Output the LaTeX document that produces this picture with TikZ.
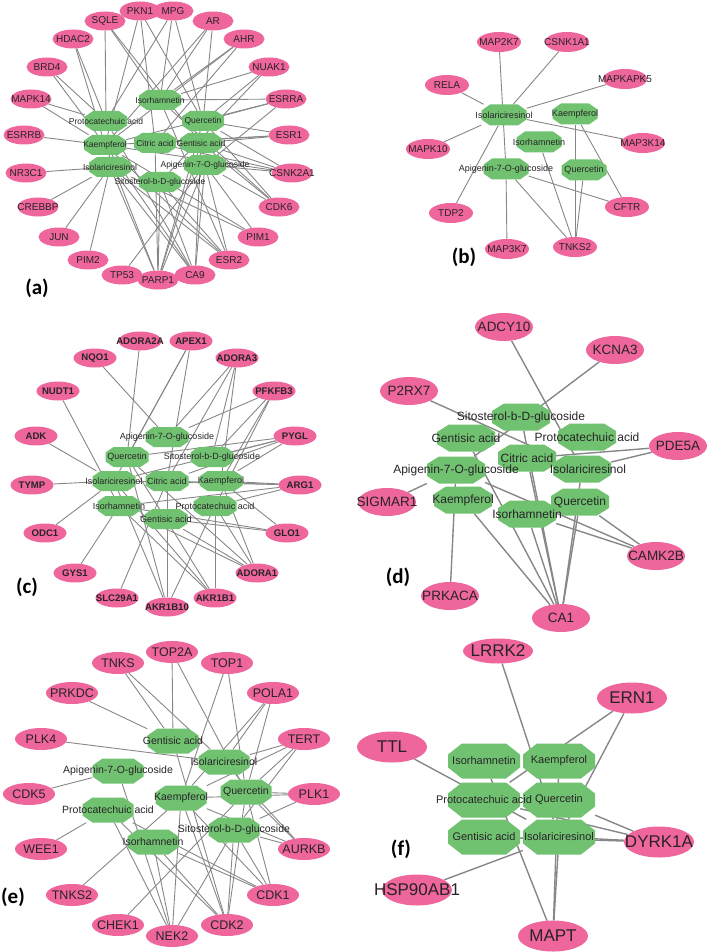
\documentclass[tikz,border=0pt]{standalone}
\usepackage{fontspec}
\setmainfont{Liberation Sans}
\newfontfamily\lblfont{Carlito}
\usetikzlibrary{shapes.geometric,calc,backgrounds}
\definecolor{npink}{RGB}{238,102,155}
\definecolor{ngreen}{RGB}{112,194,112}
\definecolor{nedge}{RGB}{135,135,135}
\definecolor{ntext}{RGB}{40,35,40}
\tikzset{
  pt/.style={inner sep=0pt, text=ntext},
  pnode/.style={ellipse, fill=npink, draw=none, inner sep=0pt},
  gnode/.style 2 args={rectangle, draw=none, inner sep=0pt,
    path picture={\fill[ngreen]
      ($(path picture bounding box.north west)+(#1,0pt)$) --
      ($(path picture bounding box.north east)+(-#1,0pt)$) --
      ($(path picture bounding box.north east)+(0pt,-#2)$) --
      ($(path picture bounding box.south east)+(0pt,#2)$) --
      ($(path picture bounding box.south east)+(-#1,0pt)$) --
      ($(path picture bounding box.south west)+(#1,0pt)$) --
      ($(path picture bounding box.south west)+(0pt,#2)$) --
      ($(path picture bounding box.north west)+(0pt,-#2)$) -- cycle;}},
  panlab/.style={inner sep=0pt, font=\lblfont\bfseries\fontsize{21}{24}\selectfont},
  pA/.style={pnode, minimum width=41, minimum height=19, label={[pt, font=\fontsize{10}{12}\selectfont]center:#1}},
  gA/.style={gnode={8pt}{5.5pt}, minimum width=42, minimum height=20},
  tA/.style={pt, font=\fontsize{8.5}{10}\selectfont},
  pB/.style={pnode, minimum width=44, minimum height=20, label={[pt, font=\fontsize{10}{12}\selectfont]center:#1}},
  gB/.style={gnode={8.5pt}{6pt}, minimum width=45, minimum height=21},
  tB/.style={pt, font=\fontsize{9}{11}\selectfont},
  pC/.style={pnode, minimum width=43, minimum height=19, label={[pt, font=\bfseries\fontsize{9.6}{11}\selectfont]center:#1}},
  gC/.style={gnode={8pt}{5.5pt}, minimum width=43, minimum height=20},
  tC/.style={pt, font=\fontsize{9}{11}\selectfont},
  pD/.style={pnode, minimum width=58, minimum height=28, label={[pt, font=\fontsize{13.5}{15}\selectfont]center:#1}},
  gD/.style={gnode={12pt}{7.5pt}, minimum width=58, minimum height=27},
  tD/.style={pt, font=\fontsize{12}{14}\selectfont},
  pE/.style={pnode, minimum width=52, minimum height=22, label={[pt, font=\fontsize{12.5}{14}\selectfont]center:#1}},
  gE/.style={gnode={10pt}{7pt}, minimum width=51, minimum height=25},
  tE/.style={pt, font=\fontsize{10.5}{12}\selectfont},
  pF/.style={pnode, minimum width=70, minimum height=31, label={[pt, font=\fontsize{17}{19}\selectfont]center:#1}},
  gF/.style={gnode={14pt}{11pt}, minimum width=72, minimum height=35},
  tF/.style={pt, font=\fontsize{11}{13}\selectfont},
  edthin/.style={draw=nedge, line width=0.9pt},
  edthick/.style={draw=nedge, line width=1.4pt},
}
\begin{document}
\begin{tikzpicture}[x=1pt, y=-1pt]
\useasboundingbox (0,0) rectangle (708,952);
% ---------------- (a) ----------------
\node[pA=SQLE] (aSQLE) at (105,21) {};
\node[pA=PKN1] (aPKN1) at (140,11) {};
\node[pA=MPG] (aMPG) at (173,11) {};
\node[pA=AR] (aAR) at (213,21) {};
\node[pA=AHR] (aAHR) at (244,39) {};
\node[pA=NUAK1] (aNUAK1) at (269,67) {};
\node[pA=ESRRA] (aESRRA) at (286,99) {};
\node[pA=ESR1] (aESR1) at (289,135) {};
\node[pA=HDAC2] (aHDAC2) at (73,39) {};
\node[pA=BRD4] (aBRD4) at (47,67) {};
\node[pA=MAPK14] (aMAPK14) at (31,99) {};
\node[pA=ESRRB] (aESRRB) at (24,135) {};
\node[pA=NR3C1] (aNR3C1) at (26,173) {};
\node[pA=CREBBP] (aCREBBP) at (38,207) {};
\node[pA=JUN] (aJUN) at (59,237) {};
\node[pA=PIM2] (aPIM2) at (88,260) {};
\node[pA=TP53] (aTP53) at (122,275) {};
\node[pA=CA9] (aCA9) at (195,275) {};
\node[pA=PARP1] (aPARP1) at (158,280) {};
\node[pA=ESR2] (aESR2) at (229,260) {};
\node[pA=PIM1] (aPIM1) at (258,237) {};
\node[pA=CDK6] (aCDK6) at (279,207) {};
\node[pA=CSNK2A1] (aCSNK2A1) at (292,173) {};
\node[gA] (aIso) at (160,100) {};
\node[gA] (aPro) at (106,121) {};
\node[gA] (aQue) at (203,121) {};
\node[gA] (aKae) at (105,145) {};
\node[gA] (aCit) at (155,143) {};
\node[gA] (aGen) at (201,143) {};
\node[gA] (aIsl) at (110,167) {};
\node[gA] (aApi) at (205,165) {};
\node[gA] (aSit) at (160,182) {};
\foreach \n/\t in {aIso/Isorhamnetin, aPro/Protocatechuic acid, aQue/Quercetin, aKae/Kaempferol,
  aCit/Citric acid, aGen/Gentisic acid, aIsl/Isolariciresinol, aApi/Apigenin-7-O-glucoside,
  aSit/Sitosterol-b-D-glucoside}
  \node[tA] (\n-t) at (\n) {\t};
\node[panlab] (labA) at (37,288) {(a)};
% ---------------- (b) ----------------
\node[pB=MAP2K7] (bMAP2K7) at (499,42) {};
\node[pB=CSNK1A1] (bCSNK1A1) at (567,42) {};
\node[pB=MAPKAPK5] (bMAPKAPK5) at (625,79) {};
\node[pB=RELA] (bRELA) at (447,85) {};
\node[pB=MAPK10] (bMAPK10) at (428,149) {};
\node[pB=MAP3K14] (bMAP3K14) at (643,143) {};
\node[pB=TDP2] (bTDP2) at (451,213) {};
\node[pB=MAP3K7] (bMAP3K7) at (507,249) {};
\node[pB=TNKS2] (bTNKS2) at (575,247) {};
\node[pB=CFTR] (bCFTR) at (627,207) {};
\node[gB] (bIsl) at (504,115) {};
\node[gB] (bKae) at (575,114) {};
\node[gB] (bIso) at (539,142) {};
\node[gB] (bApi) at (506,169) {};
\node[gB] (bQue) at (584,170) {};
\foreach \n/\t in {bIsl/Isolariciresinol, bKae/Kaempferol, bIso/Isorhamnetin,
  bApi/Apigenin-7-O-glucoside, bQue/Quercetin}
  \node[tB] (\n-t) at (\n) {\t};
\node[panlab] (labB) at (464,257) {(b)};
% ---------------- (c) ----------------
\node[pC=ADORA2A] (cADORA2A) at (140,341) {};
\node[pC=APEX1] (cAPEX1) at (191,341) {};
\node[pC=NQO1] (cNQO1) at (95,358) {};
\node[pC=ADORA3] (cADORA3) at (237,358) {};
\node[pC=NUDT1] (cNUDT1) at (58,391) {};
\node[pC=PFKFB3] (cPFKFB3) at (274,391) {};
\node[pC=ADK] (cADK) at (36,436) {};
\node[pC=PYGL] (cPYGL) at (295,436) {};
\node[pC=TYMP] (cTYMP) at (32,485) {};
\node[pC=ARG1] (cARG1) at (300,485) {};
\node[pC=ODC1] (cODC1) at (45,533) {};
\node[pC=GLO1] (cGLO1) at (287,533) {};
\node[pC=GYS1] (cGYS1) at (75,573) {};
\node[pC=ADORA1] (cADORA1) at (257,573) {};
\node[pC=SLC29A1] (cSLC29A1) at (117,598) {};
\node[pC=AKR1B1] (cAKR1B1) at (215,598) {};
\node[pC=AKR1B10] (cAKR1B10) at (167,607) {};
\node[gC] (cApi) at (167,437) {};
\node[gC] (cQue) at (127,457) {};
\node[gC] (cSit) at (212,457) {};
\node[gC] (cIsl) at (114,481) {};
\node[gC] (cCit) at (167,481) {};
\node[gC] (cKae) at (221,481) {};
\node[gC] (cIso) at (119,506) {};
\node[gC] (cPro) at (215,506) {};
\node[gC] (cGen) at (166,519) {};
\foreach \n/\t in {cApi/Apigenin-7-O-glucoside, cQue/Quercetin, cSit/Sitosterol-b-D-glucoside,
  cIsl/Isolariciresinol, cCit/Citric acid, cKae/Kaempferol, cIso/Isorhamnetin,
  cPro/Protocatechuic acid, cGen/Gentisic acid}
  \node[tC] (\n-t) at (\n) {\t};
\node[panlab] (labC) at (27,587) {(c)};
% ---------------- (d) ----------------
\node[pD=ADCY10] (dADCY10) at (504,327) {};
\node[pD=KCNA3] (dKCNA3) at (615,350) {};
\node[pD=P2RX7] (dP2RX7) at (409,391) {};
\node[pD=PDE5A] (dPDE5A) at (678,446) {};
\node[pD=SIGMAR1] (dSIGMAR1) at (387,502) {};
\node[pD=CAMK2B] (dCAMK2B) at (656,556) {};
\node[pD=PRKACA] (dPRKACA) at (450,596) {};
\node[pD=CA1] (dCA1) at (561,618) {};
\node[gD] (dSit) at (521,417) {};
\node[gD] (dGen) at (466,438) {};
\node[gD] (dPro) at (587,437) {};
\node[gD] (dCit) at (527,458) {};
\node[gD] (dIsl) at (582,469) {};
\node[gD] (dApi) at (456,470) {};
\node[gD] (dKae) at (463,500) {};
\node[gD] (dQue) at (580,502) {};
\node[gD] (dIso) at (527,514) {};
\foreach \n/\t in {dSit/Sitosterol-b-D-glucoside, dGen/Gentisic acid, dPro/Protocatechuic acid,
  dCit/Citric acid, dApi/Apigenin-7-O-glucoside, dKae/Kaempferol, dQue/Quercetin, dIso/Isorhamnetin}
  \node[tD] (\n-t) at (\n) {\t};
\node[tD] (dIsl-t) at ([xshift=6pt]dIsl.center) {Isolariciresinol};
\node[panlab] (labD) at (398,577) {(d)};
% ---------------- (e) ----------------
\node[pE=TOP2A] (eTOP2A) at (172,652) {};
\node[pE=TNKS] (eTNKS) at (118,663) {};
\node[pE=TOP1] (eTOP1) at (227,663) {};
\node[pE=PRKDC] (ePRKDC) at (72,693) {};
\node[pE=POLA1] (ePOLA1) at (273,693) {};
\node[pE=PLK4] (ePLK4) at (41,739) {};
\node[pE=TERT] (eTERT) at (304,739) {};
\node[pE=CDK5] (eCDK5) at (29,794) {};
\node[pE=PLK1] (ePLK1) at (314,794) {};
\node[pE=WEE1] (eWEE1) at (41,849) {};
\node[pE=AURKB] (eAURKB) at (304,849) {};
\node[pE=TNKS2] (eTNKS2) at (72,895) {};
\node[pE=CDK1] (eCDK1) at (273,895) {};
\node[pE=CHEK1] (eCHEK1) at (118,925) {};
\node[pE=CDK2] (eCDK2) at (227,925) {};
\node[pE=NEK2] (eNEK2) at (172,936) {};
\node[gE] (eGen) at (173,741) {};
\node[gE] (eIsl) at (224,762) {};
\node[gE] (eApi) at (118,771) {};
\node[gE] (eKae) at (181,798) {};
\node[gE] (eQue) at (246,792) {};
\node[gE] (ePro) at (108,810) {};
\node[gE] (eSit) at (234,830) {};
\node[gE] (eIso) at (153,842) {};
\foreach \n/\t in {eGen/Gentisic acid, eIsl/Isolariciresinol, eApi/Apigenin-7-O-glucoside,
  eKae/Kaempferol, eQue/Quercetin, ePro/Protocatechuic acid, eSit/Sitosterol-b-D-glucoside,
  eIso/Isorhamnetin}
  \node[tE] (\n-t) at (\n) {\t};
\node[panlab] (labE) at (13,897) {(e)};
% ---------------- (f) ----------------
\node[pF=LRRK2, minimum height=25] (fLRRK2) at (498,651) {};
\node[pF=ERN1] (fERN1) at (632,698) {};
\node[pF=TTL] (fTTL) at (392,747) {};
\node[pF=DYRK1A] (fDYRK1A) at (659,842) {};
\node[pF=HSP90AB1] (fHSP90AB1) at (417,890) {};
\node[pF=MAPT] (fMAPT) at (553,936) {};
\node[gF] (fIso) at (484,761) {};
\node[gF] (fKae) at (559,761) {};
\node[gF] (fPro) at (484,800) {};
\node[gF] (fQue) at (559,800) {};
\node[gF] (fGen) at (484,837) {};
\node[gF] (fIsl) at (559,837) {};
\foreach \n/\t in {fIso/Isorhamnetin, fKae/Kaempferol, fPro/Protocatechuic acid, fQue/Quercetin,
  fGen/Gentisic acid, fIsl/Isolariciresinol}
  \node[tF] (\n-t) at (\n) {\t};
\node[panlab] (labF) at (401,849) {(f)};
% ---------------- edges ----------------
\begin{scope}[on background layer]
\foreach \u/\v in {aSQLE/aPro, aSQLE/aGen, aSQLE/aIso,
  aPKN1/aKae, aPKN1/aQue, aPKN1/aCit,
  aMPG/aIso, aMPG/aPro, aMPG/aQue,
  aAR/aQue, aAR/aKae, aAR/aIso,
  aAHR/aIso, aAHR/aKae, aAHR/aCit,
  aNUAK1/aIso, aNUAK1/aQue, aNUAK1/aSit,
  aESRRA/aIso, aESRRA/aQue, aESRRA/aKae, aESRRA/aApi,
  aESR1/aQue, aESR1/aGen, aESR1/aKae, aESR1/aCit,
  aHDAC2/aPro, aHDAC2/aKae, aBRD4/aPro, aBRD4/aKae,
  aMAPK14/aPro, aMAPK14/aKae, aESRRB/aKae,
  aNR3C1/aIsl, aCREBBP/aIsl, aJUN/aIsl, aPIM2/aIsl, aTP53/aApi,
  aPARP1/aIsl, aPARP1/aSit, aPARP1/aApi, aPARP1/aKae, aPARP1/aCit, aPARP1/aGen, aPARP1/aQue,
  aCA9/aApi, aCA9/aSit, aCA9/aIsl, aCA9/aKae, aCA9/aGen, aCA9/aPro,
  aESR2/aIsl, aESR2/aSit, aESR2/aApi, aESR2/aKae, aESR2/aIso,
  aPIM1/aIsl, aPIM1/aKae, aPIM1/aApi,
  aCDK6/aQue, aCDK6/aGen, aCDK6/aApi, aCDK6/aIso,
  aCSNK2A1/aApi, aCSNK2A1/aQue, aCSNK2A1/aGen, aCSNK2A1/aCit, aCSNK2A1/aKae}
  \draw[edthin] (\u) -- (\v);
\foreach \u/\v in {bMAP2K7/bApi, bCSNK1A1/bIsl, bMAPKAPK5/bIsl, bRELA/bIsl, bMAP3K14/bIsl,
  bMAPK10/bIsl, bTDP2/bIsl, bMAP3K7/bApi, bCFTR/bApi, bTNKS2/bApi, bTNKS2/bIso,
  bTNKS2/bKae, bTNKS2/bQue, bCFTR/bKae}
  \draw[edthin] (\u) -- (\v);
\foreach \u/\v in {cADORA2A/cQue, cAPEX1/cQue, cAPEX1/cCit, cAPEX1/cIsl, cNQO1/cApi,
  cADORA3/cApi, cADORA3/cCit, cADORA3/cSit, cADORA3/cKae, cNUDT1/cIso,
  cPFKFB3/cApi, cPFKFB3/cSit, cPFKFB3/cKae, cPFKFB3/cPro, cADK/cIsl,
  cPYGL/cQue, cPYGL/cSit, cPYGL/cCit, cPYGL/cIsl, cPYGL/cKae, cTYMP/cIsl,
  cARG1/cKae, cARG1/cCit, cARG1/cIsl, cARG1/cPro, cARG1/cIso, cODC1/cIsl,
  cGLO1/cKae, cGLO1/cGen, cGLO1/cIso, cGYS1/cIso,
  cADORA1/cKae, cADORA1/cPro, cADORA1/cGen, cADORA1/cIso, cADORA1/cQue,
  cSLC29A1/cCit, cAKR1B10/cCit, cAKR1B10/cPro, cAKR1B10/cIsl, cAKR1B10/cQue,
  cAKR1B1/cPro, cAKR1B1/cIso, cAKR1B1/cQue, cAKR1B1/cIsl}
  \draw[edthin] (\u) -- (\v);
\foreach \u/\v in {dADCY10/dIsl, dKCNA3/dApi, dP2RX7/dIsl, dPDE5A/dCit, dPDE5A/dIsl,
  dSIGMAR1/dApi, dPRKACA/dApi, dCA1/dKae, dCA1/dIso, dCA1/dSit, dCA1/dCit, dCA1/dQue,
  dCA1/dGen, dCA1/dIsl, dCAMK2B/dIso, dCAMK2B/dQue, dCAMK2B/dApi}
  \draw[edthick] (\u) -- (\v);
\foreach \u/\v in {eTNKS/eGen, eTNKS/eIsl, eTOP2A/eGen, eTOP2A/eQue, eTOP1/eKae, eTOP1/eQue,
  ePRKDC/eGen, ePOLA1/eIsl, ePOLA1/eKae, ePOLA1/eQue, ePLK4/eIsl,
  eTERT/eIsl, eTERT/eQue, eTERT/eKae, eTERT/eSit, eCDK5/eApi,
  ePLK1/eQue, ePLK1/eSit, ePLK1/eKae, eWEE1/ePro,
  eAURKB/eQue, eAURKB/eSit, eAURKB/eKae, eAURKB/eIsl, eTNKS2/eKae,
  eCDK1/eQue, eCDK1/eSit, eCDK1/eKae, eCDK1/eIso, eCDK1/ePro, eCHEK1/eQue,
  eNEK2/eIso, eNEK2/eKae, eNEK2/ePro, eNEK2/eSit, eNEK2/eApi,
  eCDK2/eQue, eCDK2/eKae, eCDK2/eSit, eCDK2/eIso, eCDK2/ePro, eCDK2/eGen}
  \draw[edthin] (\u) -- (\v);
\foreach \u/\v in {fLRRK2/fIsl, fERN1/fPro, fERN1/fIsl, fTTL/fIsl, fDYRK1A/fPro,
  fDYRK1A/fIsl, fDYRK1A/fGen, fDYRK1A/fQue, fHSP90AB1/fIsl, fMAPT/fIsl, fMAPT/fIso, fMAPT/fKae}
  \draw[edthick] (\u) -- (\v);
\end{scope}
\end{tikzpicture}
\end{document}
